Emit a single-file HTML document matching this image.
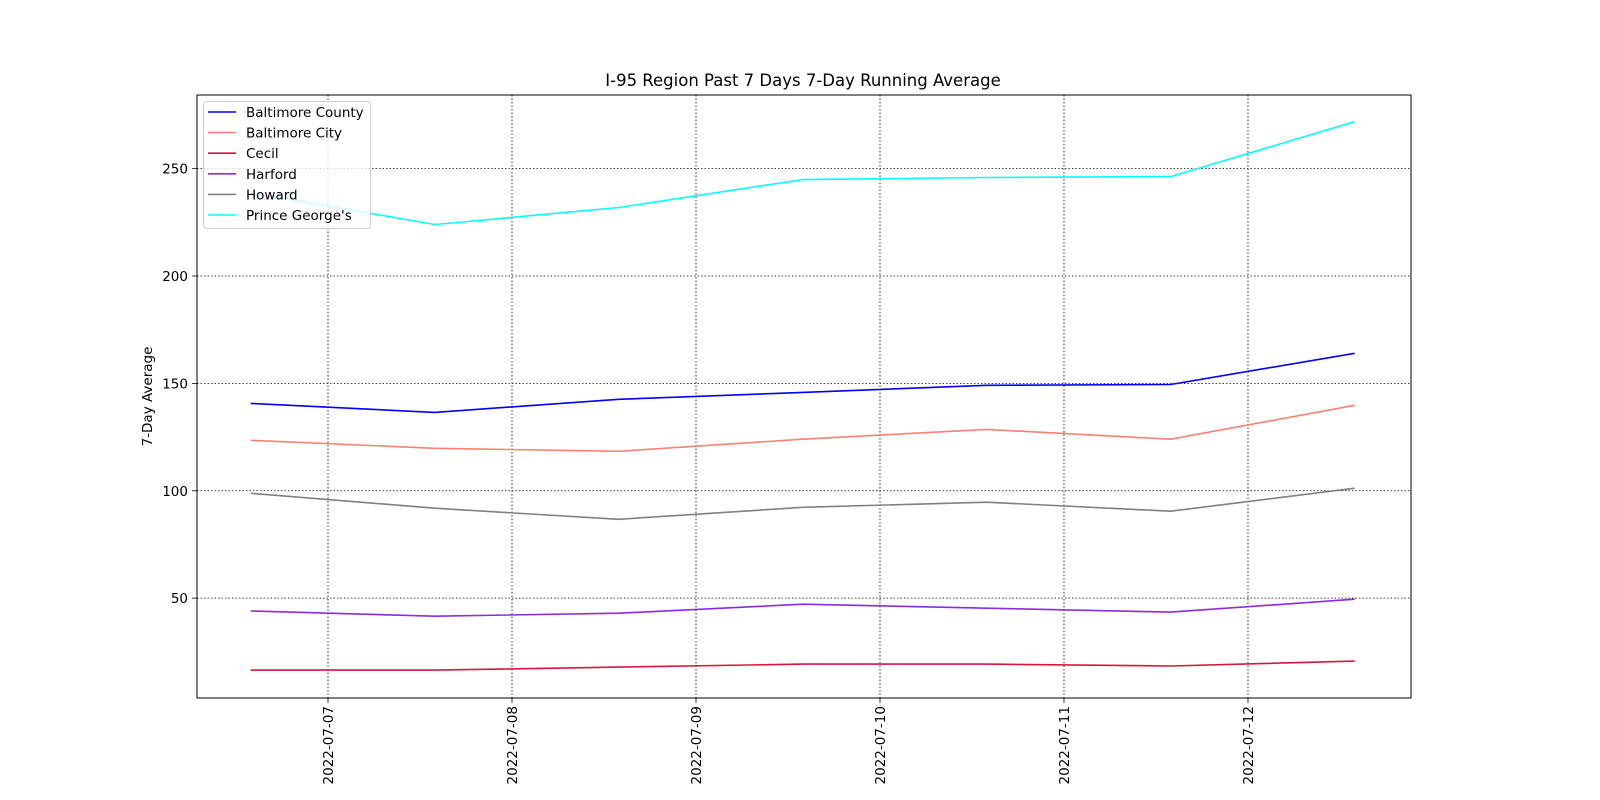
<!DOCTYPE html>
<html><head><meta charset="utf-8"><style>
html,body{margin:0;padding:0;background:#fff;width:1600px;height:800px;overflow:hidden;}
svg{display:block;overflow:hidden;font-family:"DejaVu Sans","Liberation Sans",sans-serif;}
</style></head><body>
<svg id="chart" width="1600" height="800" viewBox="0 0 1600 800"></svg>
<script>
const dates=["2022-07-07","2022-07-08","2022-07-09","2022-07-10","2022-07-11","2022-07-12"];
const seriesNames=["Baltimore County","Baltimore City","Cecil","Harford","Howard","Prince George's"];
const seriesColors=["#0000ff","#fa8072","#dc143c","#8a2be2","#808080","#00ffff"];
const baltimoreCounty=[140.7,136.5,142.6,145.8,149.1,149.5,164];
const baltimoreCity=[123.5,119.8,118.4,124,128.6,124,139.8];
const cecil=[16.5,16.5,17.9,19.3,19.3,18.4,20.7];
const harford=[44,41.6,43,47.2,45.3,43.5,49.5];
const howard=[98.8,91.9,86.7,92.3,94.7,90.5,101.2];
const princeGeorges=[238.8,224,231.9,244.9,245.9,246.3,271.9];
const yTicks=[50,100,150,200,250];
const allSeries=[baltimoreCounty,baltimoreCity,cecil,harford,howard,princeGeorges];

const NS="http://www.w3.org/2000/svg";
const svg=document.getElementById('chart');
const L=197,R=1411,T=95,B=698;
const xMin=0.288,xMax=6.886,yMin=3.5,yMax=284.3;
const xs=d=>L+(d-xMin)/(xMax-xMin)*(R-L);
const ys=v=>B-(v-yMin)/(yMax-yMin)*(B-T);
function mk(tag,attrs,parent){const e=document.createElementNS(NS,tag);for(const k in attrs)e.setAttribute(k,attrs[k]);(parent||svg).appendChild(e);return e;}

const t=mk('text',{x:803,y:86,'text-anchor':'middle','font-size':16.5});
t.textContent="I-95 Region Past 7 Days 7-Day Running Average";



const grid=mk('g',{});


dates.forEach((d,i)=>{
  const x=xs(i+1);
  mk('line',{x1:x,x2:x,y1:T,y2:B,stroke:'#000','stroke-width':0.8,'stroke-dasharray':'1.5,2'},grid);
  mk('line',{x1:x,x2:x,y1:B,y2:B+5,stroke:'#000','stroke-width':0.8});
  const lb=mk('text',{transform:`translate(${x+5},${B+8}) rotate(-90)`,'text-anchor':'end','font-size':13.5});
  lb.textContent=d;
  
  
});
yTicks.forEach(v=>{
  const y=ys(v);
  mk('line',{x1:L,x2:R,y1:y,y2:y,stroke:'#000','stroke-width':0.8,'stroke-dasharray':'1.5,2'},grid);
  mk('line',{x1:L-5,x2:L,y1:y,y2:y,stroke:'#000','stroke-width':0.8});
  const lb=mk('text',{x:L-9,y:y+5,'text-anchor':'end','font-size':13.5});
  lb.textContent=v;
  
  
});
const yl=mk('text',{transform:`translate(152,${(T+B)/2}) rotate(-90)`,'text-anchor':'middle','font-size':13.5});
yl.textContent="7-Day Average";



allSeries.forEach((s,k)=>{
  const pts=s.map((v,i)=>xs(i+0.58).toFixed(1)+','+ys(v).toFixed(1)).join(' ');
  const p=mk('polyline',{points:pts,fill:'none',stroke:seriesColors[k],'stroke-width':1.6});
  
  
});

const frame=mk('rect',{x:L,y:T,width:R-L,height:B-T,fill:'none',stroke:'#000','stroke-width':1});



const lg=mk('g',{});


mk('rect',{x:203.5,y:101.5,width:167,height:127,rx:3,fill:'#fff','fill-opacity':0.8,stroke:'#ccc'},lg);
seriesNames.forEach((n,k)=>{
  const y=112+k*20.6;
  const e=mk('g',{},lg);
  
  
  mk('line',{x1:208,x2:236,y1:y,y2:y,stroke:seriesColors[k],'stroke-width':1.6},e);
  const tx=mk('text',{x:246,y:y+5,'font-size':13.5},e);
  tx.textContent=n;
});
</script>
</body></html>
